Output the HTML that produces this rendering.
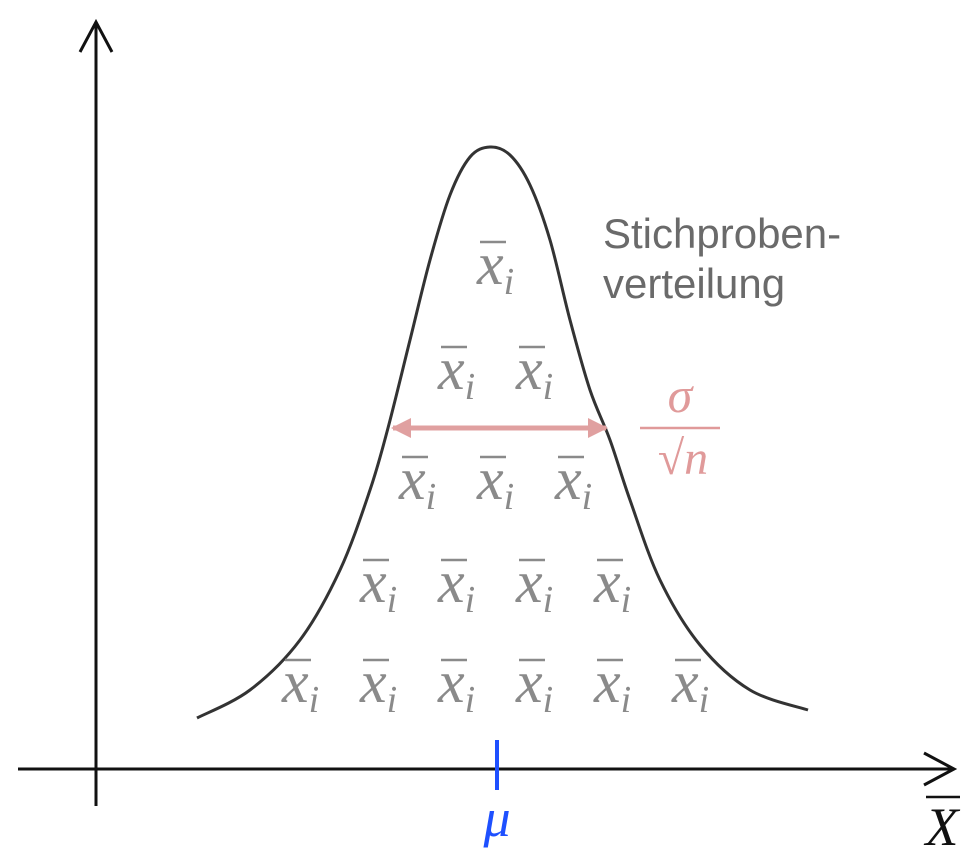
<!DOCTYPE html>
<html><head><meta charset="utf-8"><style>
html,body{margin:0;padding:0;background:#fff;}
svg{display:block;}
</style></head><body>
<svg width="974" height="849" viewBox="0 0 974 849">
<defs>
<marker id="ah" viewBox="0 0 10 10" refX="9" refY="5" markerWidth="4" markerHeight="4" orient="auto-start-reverse"><path d="M0,0 L10,5 L0,10 Z" fill="#e0a0a0"/></marker>
</defs>
<g>
<line x1="96" y1="22" x2="96" y2="806" stroke="#111" stroke-width="3"/>
<polyline points="80,52 96,22 112,52" fill="none" stroke="#111" stroke-width="3"/>
</g>
<g>
<line x1="18" y1="769" x2="954" y2="769" stroke="#111" stroke-width="3"/>
<polyline points="924,753 954,769 924,785" fill="none" stroke="#111" stroke-width="3"/>
</g>
<path id="curve" fill="none" stroke="#333" stroke-width="3"/>
<line x1="497" y1="740" x2="497" y2="790" stroke="#1e50ff" stroke-width="4"/>
<text x="497" y="836" text-anchor="middle" font-family="Liberation Serif,serif" font-style="italic" font-size="54" fill="#1e50ff">μ</text>
<g>
<text x="942" y="845" text-anchor="middle" font-family="Liberation Serif,serif" font-style="italic" font-size="54" fill="#111">X</text>
<line x1="926" y1="797" x2="960" y2="797" stroke="#111" stroke-width="2.5"/>
</g>
<g font-family="Liberation Sans,sans-serif" font-size="42" fill="#6a6a6a">
<text x="603" y="248">Stichproben-</text>
<text x="603" y="298">verteilung</text>
</g>
<g>
<line x1="393" y1="428" x2="606" y2="428" stroke="#e0a0a0" stroke-width="5" marker-start="url(#ah)" marker-end="url(#ah)"/>
</g>
<g fill="#e09a9a" font-family="Liberation Serif,serif" font-style="italic">
<text x="680" y="412" text-anchor="middle" font-size="50">σ</text>
<line x1="640" y1="428" x2="720" y2="428" stroke="#e09a9a" stroke-width="2.5"/>
<text x="683" y="474" text-anchor="middle" font-size="48" font-style="normal">√<tspan font-style="italic">n</tspan></text>
</g>
<g id="samples"></g>
</svg>
<script>
// curve data (x in sigma-ish units, y density height)
const curveX = [-2.93,-2.4,-1.9,-1.5,-1.2,-1.02,-0.8,-0.6,-0.4,-0.2,0,0.2,0.4,0.6,0.8,1.0,1.2,1.4,1.7,2.1,2.6,3.18];
const curveY = [0.51,0.79,1.29,1.99,2.79,3.41,4.29,5.09,5.74,6.12,6.22,6.14,5.84,5.29,4.49,3.79,3.29,2.69,1.89,1.24,0.79,0.59];
// sample mean rows: count per row and baseline level
const rowCounts = [1,2,3,4,6];
const rowLevels = [4.85,3.8,2.7,1.67,0.67];
function sx(v){return 490+v*100;}
function sy(v){return 769-v*100;}
const NS="http://www.w3.org/2000/svg";
const P=curveX.map((x,i)=>[sx(x),sy(curveY[i])]);
let d="M"+P[0][0]+","+P[0][1];
for(let i=0;i<P.length-1;i++){
  const p0=P[Math.max(0,i-1)],p1=P[i],p2=P[i+1],p3=P[Math.min(P.length-1,i+2)];
  const c1=[p1[0]+(p2[0]-p0[0])/6,p1[1]+(p2[1]-p0[1])/6];
  const c2=[p2[0]-(p3[0]-p1[0])/6,p2[1]-(p3[1]-p1[1])/6];
  d+=" C"+c1[0]+","+c1[1]+" "+c2[0]+","+c2[1]+" "+p2[0]+","+p2[1];
}
document.getElementById('curve').setAttribute('d',d);
const g=document.getElementById('samples');
const spacing=78;
rowCounts.forEach((n,r)=>{
  for(let k=0;k<n;k++){
    const cx=503+(k-(n-1)/2)*spacing;
    const by=sy(rowLevels[r]);
    const t=document.createElementNS(NS,'text');
    
    
    t.setAttribute('x',cx-26);t.setAttribute('y',by);
    t.setAttribute('font-family','Liberation Serif,serif');
    t.setAttribute('font-style','italic');
    t.setAttribute('font-size','60');
    t.setAttribute('fill','#8a8a8a');
    t.textContent='x';
    const s=document.createElementNS(NS,'tspan');
    s.setAttribute('font-size','38');s.setAttribute('dy','10');
    s.textContent='i';
    t.appendChild(s);
    g.appendChild(t);
    const l=document.createElementNS(NS,'line');
    
    
    l.setAttribute('x1',cx-23);l.setAttribute('x2',cx+3);
    l.setAttribute('y1',by-42);l.setAttribute('y2',by-42);
    l.setAttribute('stroke','#8a8a8a');l.setAttribute('stroke-width','2.5');
    g.appendChild(l);
  }
});
</script>
</body></html>
